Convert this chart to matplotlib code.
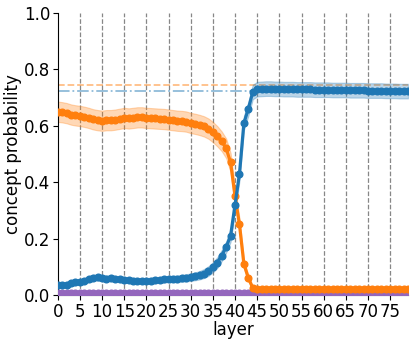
import matplotlib
matplotlib.use('Agg')
from matplotlib import pyplot as plt
import numpy as np

layers = list(range(80))

# probability of the first concept (blue)
blue_mean = [
    0.035, 0.035, 0.037, 0.042, 0.045, 0.046, 0.050, 0.056, 0.061, 0.062,
    0.060, 0.058, 0.060, 0.057, 0.055, 0.054, 0.052, 0.051, 0.050, 0.050,
    0.050, 0.051, 0.052, 0.053, 0.055, 0.056, 0.057, 0.057, 0.059, 0.061,
    0.063, 0.066, 0.070, 0.076, 0.085, 0.098, 0.115, 0.140, 0.170, 0.210,
    0.320, 0.430, 0.610, 0.660, 0.720, 0.730, 0.731, 0.732, 0.732, 0.731,
    0.731, 0.730, 0.730, 0.730, 0.729, 0.729, 0.729, 0.729, 0.728, 0.728,
    0.728, 0.728, 0.727, 0.727, 0.727, 0.727, 0.726, 0.726, 0.726, 0.726,
    0.725, 0.725, 0.725, 0.725, 0.724, 0.724, 0.724, 0.723, 0.723, 0.723,
]
blue_err = [
    0.010, 0.010, 0.010, 0.010, 0.010, 0.010, 0.010, 0.010, 0.011, 0.011,
    0.011, 0.011, 0.011, 0.010, 0.010, 0.010, 0.010, 0.010, 0.010, 0.010,
    0.010, 0.010, 0.010, 0.010, 0.011, 0.011, 0.011, 0.012, 0.012, 0.013,
    0.013, 0.014, 0.015, 0.016, 0.017, 0.018, 0.019, 0.020, 0.020, 0.022,
    0.025, 0.025, 0.025, 0.025, 0.026, 0.026, 0.026, 0.026, 0.026, 0.026,
    0.026, 0.026, 0.026, 0.026, 0.026, 0.026, 0.026, 0.026, 0.026, 0.026,
    0.026, 0.026, 0.026, 0.026, 0.026, 0.026, 0.026, 0.026, 0.026, 0.026,
    0.026, 0.026, 0.026, 0.026, 0.026, 0.026, 0.026, 0.026, 0.026, 0.026,
]

# probability of the second concept (orange)
orange_mean = [
    0.650, 0.648, 0.645, 0.640, 0.637, 0.635, 0.632, 0.628, 0.623, 0.620,
    0.618, 0.620, 0.620, 0.622, 0.625, 0.628, 0.626, 0.628, 0.630, 0.630,
    0.628, 0.627, 0.626, 0.625, 0.624, 0.622, 0.620, 0.618, 0.617, 0.615,
    0.610, 0.607, 0.603, 0.598, 0.590, 0.578, 0.563, 0.545, 0.520, 0.470,
    0.350, 0.250, 0.110, 0.060, 0.025, 0.020, 0.020, 0.020, 0.020, 0.020,
    0.020, 0.020, 0.020, 0.020, 0.020, 0.020, 0.020, 0.020, 0.020, 0.020,
    0.020, 0.020, 0.020, 0.020, 0.020, 0.020, 0.020, 0.020, 0.020, 0.020,
    0.020, 0.020, 0.020, 0.020, 0.020, 0.020, 0.020, 0.020, 0.020, 0.020,
]
orange_err = [
    0.036, 0.036, 0.036, 0.036, 0.036, 0.036, 0.036, 0.036, 0.036, 0.036,
    0.036, 0.036, 0.036, 0.036, 0.036, 0.036, 0.036, 0.036, 0.036, 0.036,
    0.036, 0.036, 0.036, 0.036, 0.036, 0.036, 0.036, 0.036, 0.036, 0.036,
    0.036, 0.036, 0.036, 0.036, 0.036, 0.036, 0.036, 0.035, 0.035, 0.034,
    0.030, 0.022, 0.015, 0.010, 0.006, 0.005, 0.005, 0.005, 0.005, 0.005,
    0.005, 0.005, 0.005, 0.005, 0.005, 0.005, 0.005, 0.005, 0.005, 0.005,
    0.005, 0.005, 0.005, 0.005, 0.005, 0.005, 0.005, 0.005, 0.005, 0.005,
    0.005, 0.005, 0.005, 0.005, 0.005, 0.005, 0.005, 0.005, 0.005, 0.005,
]

# other concepts, flat near zero (purple)
purple_mean = [0.006] * 80
purple_err = [0.004] * 80

# final-layer reference levels
orange_ref = 0.744
blue_ref = 0.724

xticks = list(range(0, 80, 5))

fig = plt.figure(figsize=(4.15, 3.43), dpi=100)
ax = fig.add_axes([0.139, 0.14, 0.844, 0.822])

for x in xticks[1:]:
    ax.axvline(x, color='dimgrey', linestyle='--', linewidth=0.9, alpha=0.8, zorder=1)

ax.axhline(orange_ref, color='tab:orange', linestyle='--', linewidth=1.3, alpha=0.5)
ax.axhline(blue_ref, color='tab:blue', linestyle='-.', linewidth=1.3, alpha=0.5)

for mean, err, color in ((purple_mean, purple_err, 'tab:purple'),
                         (orange_mean, orange_err, 'tab:orange'),
                         (blue_mean, blue_err, 'tab:blue')):
    m = np.array(mean)
    e = np.array(err)
    ax.fill_between(layers, m - e, m + e, color=color, alpha=0.3, linewidth=0.8, zorder=2)
    ax.plot(layers, m, color=color, marker='o', markersize=4.8, linewidth=2.3, zorder=3)

ax.set_xlim(0, 79)
ax.set_ylim(0, 1.0)
ax.set_xticks(xticks)
ax.set_yticks([0.0, 0.2, 0.4, 0.6, 0.8, 1.0])
ax.tick_params(labelsize=12, pad=2)
ax.spines['top'].set_visible(False)
ax.spines['right'].set_visible(False)
ax.set_xlabel('layer', fontsize=12, labelpad=0)
ax.set_ylabel('concept probability', fontsize=12, labelpad=1)

fig.savefig('out.png', dpi=100)
